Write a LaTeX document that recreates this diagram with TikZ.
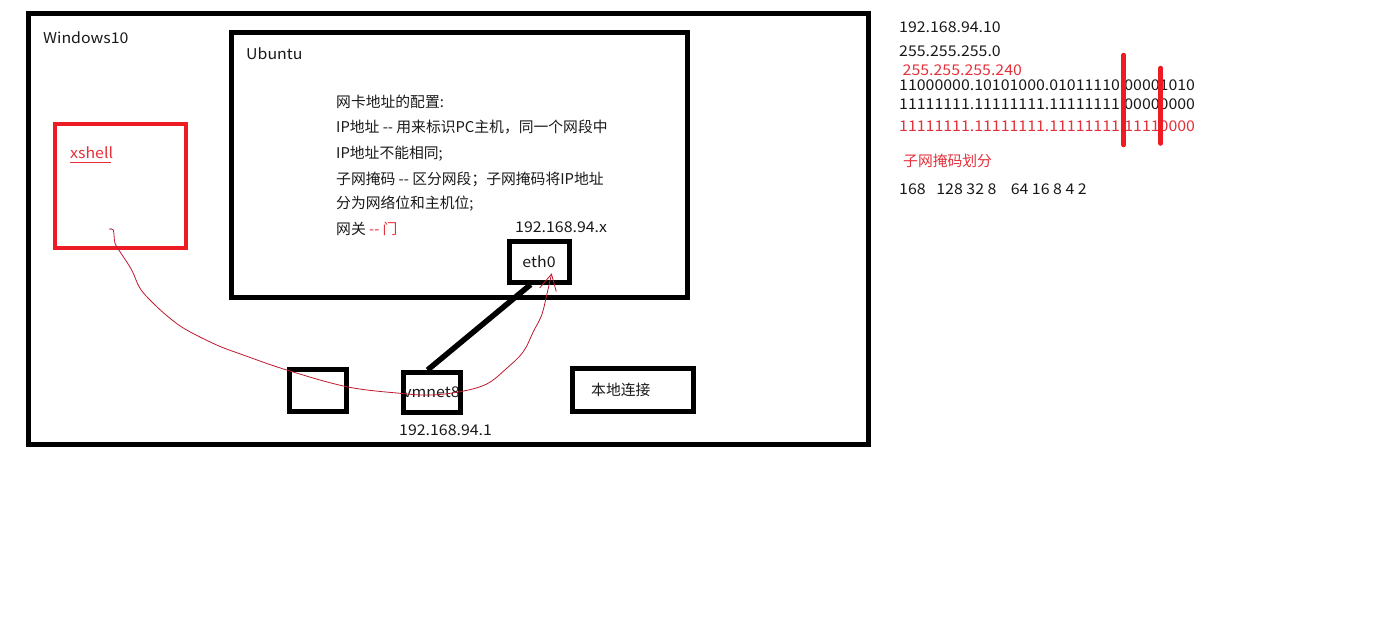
\documentclass[tikz,border=0pt]{standalone}
\usepackage{fontspec}
\setmainfont{Noto Sans CJK SC}
\newfontfamily\latinfont{Noto Sans CJK SC}[FakeStretch=1.075]
\usetikzlibrary{arrows.meta}
\definecolor{penred}{RGB}{237,28,36}
\definecolor{textred}{RGB}{228,48,58}
\definecolor{inkred}{RGB}{190,25,45}
\definecolor{ink}{RGB}{25,25,25}

\begin{document}
\begin{tikzpicture}[x=1pt,y=-1pt,
	box/.style={draw, line width=5pt, inner sep=0pt},
	redbox/.style={draw=penred, line width=4pt, inner sep=0pt},
	txt/.style={anchor=west, inner sep=0pt, text=ink, font=\fontsize{14.8}{17}\selectfont},
	num/.style={txt, font=\latinfont\fontsize{14.8}{17}\selectfont},
	rednum/.style={num, text=textred},
	cut/.style={draw=penred, line width=4.5pt, line cap=round},
	scribble/.style={draw=inkred, line width=0.8pt, -{Straight Barb[length=16pt, width=17pt, line width=0.8pt]}}]
		
		\useasboundingbox (0,0) rectangle (1382,635);
		
		% boxes
		\node [box, minimum width=840, minimum height=431] (win) at (448,228.5) {};
		\node [box, minimum width=456, minimum height=265] (ubuntu) at (459,164.5) {};
		\node [redbox, minimum width=131, minimum height=124] (xshell) at (120,186) {};
		\node [box, minimum width=60, minimum height=41] (eth) at (539,261.5) {};
		\node [box, minimum width=57, minimum height=40] (vmnet) at (431.5,392.5) {};
		\node [box, minimum width=57.5, minimum height=42] (spare) at (318,390) {};
		\node [box, minimum width=120.5, minimum height=42.5] (local) at (633,390) {};
		
		\node [num] (wintxt) at (43,38) {Windows10};
		\node [num] (ubtxt) at (246,54) {Ubuntu};
		\node [rednum] (xstxt) at (70,153) {xshell};
		\draw [textred, line width=0.9pt] (xstxt.south west)++(0,3) -- ++(41,0);
		\node [num, anchor=center] at (eth) {eth0};
		\node [num, anchor=center] at (vmnet) {vmnet8};
		\node [txt] at (591,390) {本地连接};
		\node [num] (ethip) at (515,227) {192.168.94.x};
		\node [num] (vmip) at (399,430) {192.168.94.1};
		
		% ubuntu notes
		\node [txt] (n1) at (336,101.5) {网卡地址的配置:};
		\node [txt] (n2) at (336,127.5) {IP地址 -{}- 用来标识PC主机，同一个网段中};
		\node [txt] (n3) at (336,153.3) {IP地址不能相同;};
		\node [txt] (n4) at (336,179.3) {子网掩码 -{}- 区分网段；子网掩码将IP地址};
		\node [txt] (n5) at (336,204) {分为网络位和主机位;};
		\node [txt] (n6) at (336,229.3) {网关 \textcolor{textred}{-{}- 门}};
		
		% links
		\draw [line width=5.5pt] (vmnet.100) -- (eth.250);
		\coordinate (hook) at (109.3,229.3);
		\coordinate (tip) at (551.7,273.3);
		\draw [scribble] plot [smooth, tension=0.6] coordinates {(hook) (113.3,230) (115,243.3) (120,251.7) (131.7,270) (140,288.3) (153.3,303.3) (170,318.3) (186.7,330) (216.7,345) (243.3,355) (286.7,370) (346.7,386.7) (400,393.3) (430,395) (460,391.7) (486.7,384) (506.7,368.3) (523.3,351.7) (533.3,331.7) (541.7,315) (546.7,295) (tip)};
		
		% subnet notes
		\node [num] (ip) at (899,27.3) {192.168.94.10};
		\node [num] (mask) at (899,51.7) {255.255.255.0};
		\node [rednum] (mask2) at (902.5,70) {255.255.255.240};
		\node [num] (ipbin) at (899,85.7) {11000000.10101000.01011110.00001010};
		\node [num] (maskbin) at (899,104.3) {11111111.11111111.11111111.00000000};
		\node [rednum] (mask2bin) at (899,126) {11111111.11111111.11111111.11110000};
		\draw [cut] (1123.7,55) -- (1123.7,145);
		\draw [cut] (1160.7,68) -- (1160.7,143.5);
		\node [txt, text=textred] (split) at (903,160.7) {子网掩码划分};
		\node [num] (bits) at (899,189) {168~~~128 32 8~~~~64 16 8 4 2};
		
	\end{tikzpicture}
\end{document}
